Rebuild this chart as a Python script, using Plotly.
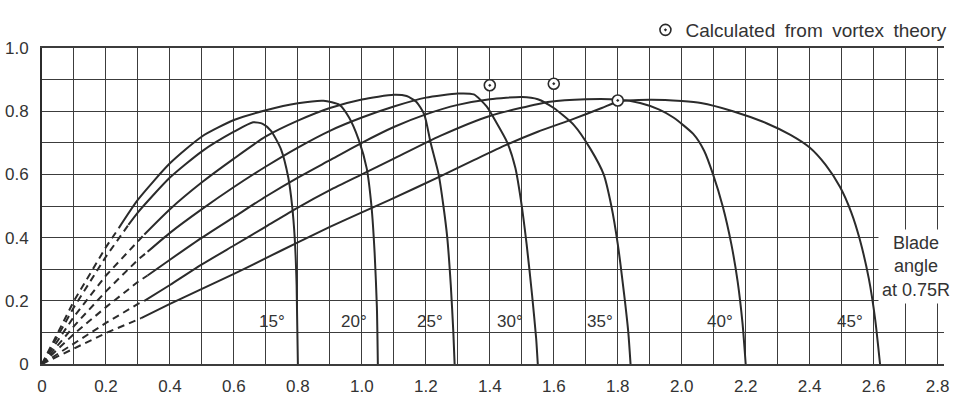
import numpy as np
import plotly.graph_objects as go

# ---------------- data ----------------
blade_angles = [15, 20, 25, 30, 35, 40, 45]

J15 = [0, 0.1, 0.2, 0.27, 0.3, 0.4, 0.5, 0.6, 0.66, 0.69, 0.716, 0.747, 0.77, 0.782, 0.79, 0.796, 0.80]
E15 = [0, 0.18, 0.34, 0.44, 0.48, 0.59, 0.673, 0.735, 0.765, 0.76, 0.738, 0.68, 0.59, 0.50, 0.40, 0.25, 0.0]

J20 = [0, 0.1, 0.2, 0.24, 0.3, 0.4, 0.5, 0.6, 0.7, 0.8, 0.88, 0.93, 0.96, 0.99, 1.015, 1.03, 1.04, 1.047, 1.05]
E20 = [0, 0.2, 0.37, 0.43, 0.52, 0.635, 0.72, 0.772, 0.803, 0.825, 0.833, 0.82, 0.78, 0.71, 0.62, 0.50, 0.35, 0.18, 0.0]

J25 = [0, 0.1, 0.2, 0.3, 0.32, 0.4, 0.5, 0.6, 0.7, 0.8, 0.9, 1.0, 1.1, 1.14, 1.17, 1.195, 1.215, 1.24, 1.255, 1.267, 1.278, 1.286, 1.29]
E25 = [0, 0.15, 0.28, 0.39, 0.41, 0.49, 0.575, 0.65, 0.72, 0.77, 0.81, 0.837, 0.852, 0.848, 0.83, 0.79, 0.70, 0.60, 0.50, 0.40, 0.25, 0.10, 0.0]

J30 = [0, 0.1, 0.2, 0.3, 0.33, 0.4, 0.5, 0.6, 0.7, 0.8, 0.9, 1.0, 1.1, 1.2, 1.3, 1.35, 1.39, 1.42, 1.455, 1.48, 1.497, 1.515, 1.532, 1.545, 1.55]
E30 = [0, 0.12, 0.23, 0.33, 0.355, 0.415, 0.49, 0.56, 0.625, 0.685, 0.738, 0.78, 0.815, 0.843, 0.856, 0.853, 0.815, 0.765, 0.70, 0.62, 0.52, 0.38, 0.22, 0.08, 0.0]

J35 = [0, 0.1, 0.2, 0.3, 0.33, 0.4, 0.5, 0.6, 0.7, 0.8, 0.9, 1.0, 1.1, 1.2, 1.3, 1.4, 1.5, 1.55, 1.6, 1.663, 1.715, 1.756, 1.78, 1.80, 1.82, 1.833, 1.84]
E35 = [0, 0.095, 0.18, 0.26, 0.28, 0.33, 0.40, 0.465, 0.53, 0.59, 0.645, 0.70, 0.75, 0.79, 0.82, 0.838, 0.845, 0.838, 0.81, 0.756, 0.68, 0.60, 0.50, 0.38, 0.22, 0.10, 0.0]

J40 = [0, 0.1, 0.2, 0.3, 0.32, 0.4, 0.5, 0.6, 0.7, 0.8, 0.9, 1.0, 1.1, 1.245, 1.4, 1.588, 1.7, 1.8, 1.87, 1.93, 1.974, 2.036, 2.07, 2.098, 2.129, 2.155, 2.175, 2.19, 2.2]
E40 = [0, 0.065, 0.13, 0.19, 0.2, 0.25, 0.315, 0.375, 0.435, 0.495, 0.55, 0.60, 0.65, 0.722, 0.785, 0.83, 0.838, 0.837, 0.826, 0.805, 0.78, 0.728, 0.675, 0.60, 0.496, 0.38, 0.26, 0.13, 0.0]

J45 = [0, 0.1, 0.2, 0.31, 0.4, 0.5, 0.6, 0.7, 0.8, 0.9, 1.0, 1.089, 1.245, 1.35, 1.453, 1.55, 1.66, 1.75, 1.8, 1.9, 2.0, 2.06, 2.16, 2.265, 2.34, 2.40, 2.45, 2.495, 2.53, 2.557, 2.585, 2.605, 2.62]
E45 = [0, 0.05, 0.098, 0.145, 0.19, 0.238, 0.285, 0.335, 0.385, 0.434, 0.48, 0.52, 0.594, 0.645, 0.694, 0.735, 0.775, 0.81, 0.83, 0.836, 0.832, 0.826, 0.80, 0.762, 0.725, 0.685, 0.63, 0.56, 0.48, 0.393, 0.27, 0.14, 0.0]

# advance ratio at which each dashed (extrapolated) part ends
dash_end_J = [0.27, 0.24, 0.32, 0.33, 0.33, 0.32, 0.31]

# points calculated from vortex theory
vortex_J = [1.4, 1.6, 1.8]
vortex_E = [0.882, 0.887, 0.834]

angle_labels = ["15°", "20°", "25°", "30°", "35°", "40°", "45°"]
angle_label_J = [0.72, 0.975, 1.213, 1.463, 1.745, 2.12, 2.526]
angle_label_E = 0.133

x_tick_labels = ["0", "0.2", "0.4", "0.6", "0.8", "1.0", "1.2", "1.4", "1.6", "1.8", "2.0", "2.2", "2.4", "2.6", "2.8"]
y_tick_labels = ["0", "0.2", "0.4", "0.6", "0.8", "1.0"]

GAP = "\u2002"
legend_text = GAP.join(["Calculated", "from", "vortex", "theory"])
blade_text = "Blade<br>angle<br>at 0.75R"

# ---------------- figure ----------------
INK = "#2b2b2b"
GRID = "#3c3c3c"
FONT = "Liberation Sans, Arial, Helvetica, sans-serif"

curves_J = [J15, J20, J25, J30, J35, J40, J45]
curves_E = [E15, E20, E25, E30, E35, E40, E45]

fig = go.Figure()
for ang, J, E, de in zip(blade_angles, curves_J, curves_E, dash_end_J):
    J = np.asarray(J, float)
    E = np.asarray(E, float)
    k = int(np.searchsorted(J, de))
    fig.add_trace(go.Scatter(x=J[:k + 1], y=E[:k + 1], mode="lines",
                             line=dict(color=INK, width=2, dash="7px,5px"),
                             showlegend=False, hoverinfo="skip", name=f"{ang}° (extrap.)"))
    fig.add_trace(go.Scatter(x=J[k:], y=E[k:], mode="lines",
                             line=dict(color=INK, width=2, shape="spline", smoothing=0.6),
                             showlegend=False, name=f"{ang}°"))

fig.add_trace(go.Scatter(x=vortex_J, y=vortex_E, mode="markers", name=legend_text,
                         marker=dict(symbol="circle-dot", size=11, color="white",
                                     line=dict(color=INK, width=1.6)),
                         showlegend=True, cliponaxis=False))

# tick positions every 0.1 (grid), labels every 0.2
n_x = (len(x_tick_labels) - 1) * 2 + 1
x_vals = [round(i * 0.1, 2) for i in range(n_x)]
x_text = [x_tick_labels[i // 2] if i % 2 == 0 else "" for i in range(n_x)]
n_y = (len(y_tick_labels) - 1) * 2 + 1
y_vals = [round(i * 0.1, 2) for i in range(n_y)]
y_text = [y_tick_labels[i // 2] if i % 2 == 0 else "" for i in range(n_y)]

annotations = []
for lab, xj in zip(angle_labels, angle_label_J):
    annotations.append(dict(x=xj, y=angle_label_E, xref="x", yref="y", text=lab,
                            showarrow=False, font=dict(family=FONT, size=17, color="#333")))
annotations.append(dict(x=2.732, y=0.31, xref="x", yref="y", text=blade_text,
                        showarrow=False, align="center", bgcolor="white", borderpad=3,
                        font=dict(family=FONT, size=18, color="#333")))

fig.update_layout(
    width=955, height=402,
    margin=dict(l=42, r=11, t=48, b=38, autoexpand=False),
    paper_bgcolor="white", plot_bgcolor="white",
    font=dict(family=FONT, size=16, color="#333"),
    showlegend=True,
    legend=dict(x=0.669, y=1.057, xanchor="left", yanchor="middle",
                bgcolor="rgba(0,0,0,0)", font=dict(family=FONT, size=19, color="#333"),
                borderwidth=0),
    annotations=annotations,
    xaxis=dict(range=[0, 2.82], tickmode="array", tickvals=x_vals, ticktext=x_text,
               showgrid=True, gridcolor=GRID, gridwidth=1.4, zeroline=False,
               showline=True, linecolor=GRID, linewidth=1.6, mirror=True,
               ticks="", ticklabelstandoff=6, tickfont=dict(size=17, color="#333")),
    yaxis=dict(range=[0, 1.0], tickmode="array", tickvals=y_vals, ticktext=y_text,
               showgrid=True, gridcolor=GRID, gridwidth=1.4,
               zeroline=True, zerolinecolor=INK, zerolinewidth=2.6,
               showline=True, linecolor=INK, linewidth=2,
               ticks="", ticklabelstandoff=8, tickfont=dict(size=17, color="#333")),
)

# remove the default 8px page margin so the figure fills the window exactly
fig.write_html("out.html",
               config={"displayModeBar": False},
               post_script="document.body.style.margin='0';document.body.style.overflow='hidden';")
